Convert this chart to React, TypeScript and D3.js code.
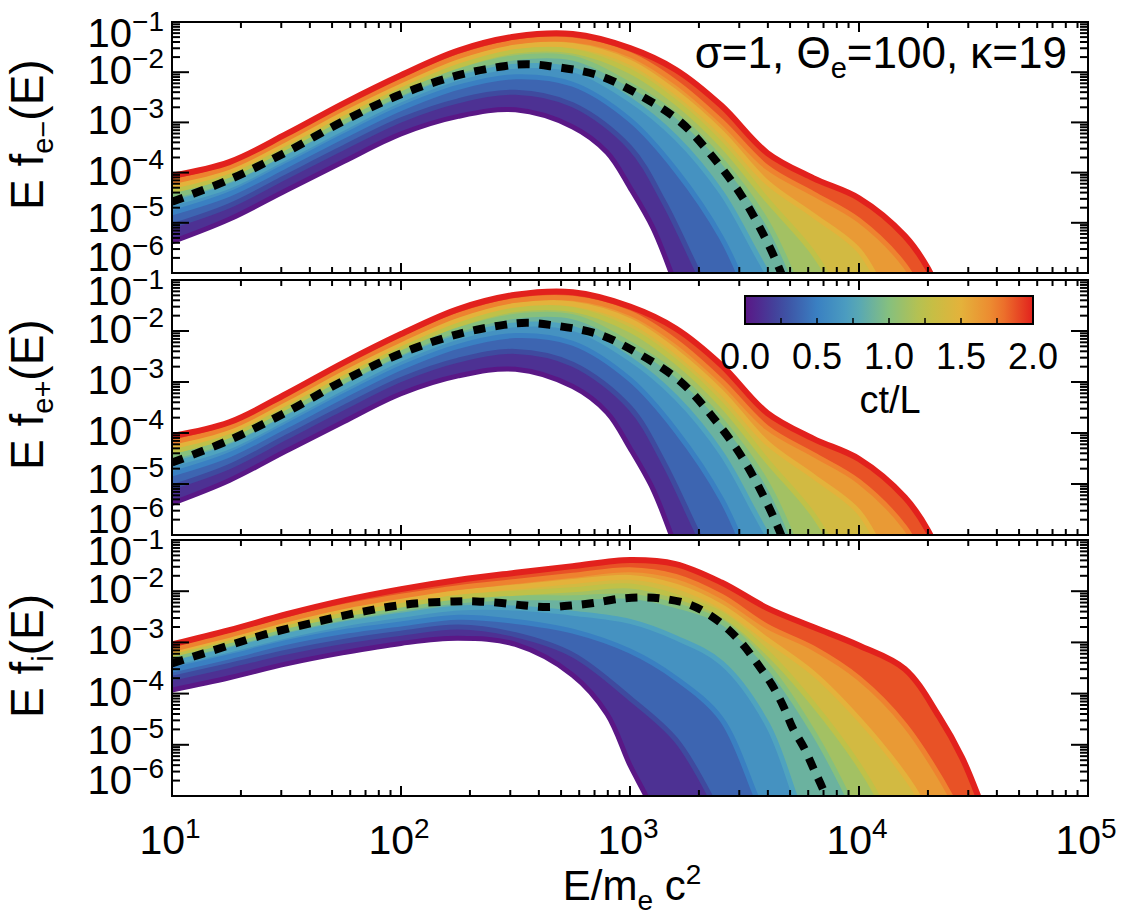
import React, { useEffect, useRef } from 'react';
import * as d3 from 'd3';

type Pt = [number, number];

// ct/L of each stored snapshot, oldest first
const snapshotTimes = [0, 0.25, 0.5, 0.75, 1.0, 1.25, 1.5, 1.75, 2.0];

// electron spectra: [log10(E/mc^2), log10(E f(E))] per snapshot
const electronSpectra: Pt[][] = [
  [[1.0, -5.38], [1.25, -4.93], [1.5, -4.35], [1.75, -3.78], [2.0, -3.23], [2.25, -2.88], [2.5, -2.75], [2.75, -3.09], [2.9, -3.6], [3.0, -4.3], [3.1, -5.1], [3.18, -6.0], [3.22, -6.5]],
  [[1.0, -5.06], [1.25, -4.66], [1.5, -4.08], [1.75, -3.5], [2.0, -2.95], [2.25, -2.57], [2.5, -2.4], [2.75, -2.65], [3.0, -3.5], [3.15, -4.6], [3.3, -6.0], [3.36, -6.5]],
  [[1.0, -4.8], [1.25, -4.43], [1.5, -3.86], [1.75, -3.27], [2.0, -2.72], [2.25, -2.3], [2.5, -2.09], [2.75, -2.24], [3.0, -2.95], [3.2, -3.95], [3.4, -5.3], [3.52, -6.5]],
  [[1.0, -4.61], [1.25, -4.27], [1.5, -3.7], [1.75, -3.11], [2.0, -2.55], [2.25, -2.12], [2.5, -1.88], [2.75, -1.95], [3.0, -2.55], [3.2, -3.3], [3.4, -4.4], [3.55, -5.6], [3.66, -6.5]],
  [[1.0, -4.47], [1.25, -4.14], [1.5, -3.58], [1.75, -2.98], [2.0, -2.42], [2.25, -1.98], [2.5, -1.71], [2.75, -1.72], [3.0, -2.25], [3.2, -2.85], [3.4, -3.75], [3.6, -5.0], [3.75, -6.5]],
  [[1.0, -4.36], [1.25, -4.05], [1.5, -3.49], [1.75, -2.89], [2.0, -2.33], [2.25, -1.87], [2.5, -1.58], [2.75, -1.58], [3.0, -1.98], [3.2, -2.6], [3.4, -3.45], [3.6, -4.55], [3.8, -5.6], [3.92, -6.5]],
  [[1.0, -4.27], [1.25, -3.97], [1.5, -3.41], [1.75, -2.81], [2.0, -2.25], [2.25, -1.78], [2.5, -1.49], [2.75, -1.47], [3.0, -1.8], [3.2, -2.4], [3.4, -3.2], [3.6, -4.2], [3.8, -4.85], [4.0, -5.55], [4.12, -6.5]],
  [[1.0, -4.18], [1.25, -3.89], [1.5, -3.33], [1.75, -2.72], [2.0, -2.17], [2.25, -1.69], [2.5, -1.4], [2.75, -1.36], [3.0, -1.65], [3.2, -2.2], [3.4, -2.98], [3.6, -3.9], [3.8, -4.42], [4.0, -4.95], [4.2, -5.85], [4.28, -6.5]],
  [[1.0, -4.06], [1.25, -3.79], [1.5, -3.23], [1.75, -2.62], [2.0, -2.06], [2.25, -1.57], [2.5, -1.29], [2.75, -1.24], [3.0, -1.52], [3.2, -1.95], [3.4, -2.67], [3.6, -3.61], [3.8, -4.11], [4.0, -4.51], [4.2, -5.26], [4.3, -5.9], [4.36, -6.5]],
];

// dashed reference spectrum, electrons
const electronMean: Pt[] = [
  [1.0, -4.58], [1.25, -4.14], [1.5, -3.59], [1.75, -2.97], [2.0, -2.44], [2.25, -2.06], [2.45, -1.88], [2.55, -1.84], [2.65, -1.88],
  [2.86, -2.06], [3.04, -2.45], [3.22, -2.99], [3.36, -3.68], [3.48, -4.41], [3.58, -5.21], [3.66, -6.0], [3.69, -6.4],
];

// pair plasma: positron spectra coincide with the electron ones
const positronSpectra: Pt[][] = electronSpectra;
const positronMean: Pt[] = electronMean;

// ion spectra
const ionSpectra: Pt[][] = [
  [[1.0, -3.93], [1.25, -3.69], [1.5, -3.42], [1.75, -3.2], [2.0, -3.02], [2.25, -2.92], [2.5, -3.04], [2.75, -3.64], [2.9, -4.4], [3.0, -5.4], [3.07, -6.0], [3.12, -6.5]],
  [[1.0, -3.7], [1.25, -3.45], [1.5, -3.19], [1.75, -2.98], [2.0, -2.82], [2.25, -2.7], [2.5, -2.85], [2.75, -3.24], [3.0, -4.09], [3.2, -4.9], [3.35, -6.0], [3.4, -6.5]],
  [[1.0, -3.54], [1.25, -3.28], [1.5, -3.0], [1.75, -2.79], [2.0, -2.64], [2.25, -2.51], [2.5, -2.59], [2.75, -2.78], [3.0, -3.17], [3.2, -3.7], [3.4, -4.5], [3.55, -6.0], [3.6, -6.5]],
  [[1.0, -3.41], [1.25, -3.15], [1.5, -2.87], [1.75, -2.64], [2.0, -2.47], [2.25, -2.33], [2.5, -2.33], [2.75, -2.43], [3.0, -2.59], [3.2, -2.91], [3.4, -3.4], [3.6, -4.6], [3.72, -6.0], [3.76, -6.5]],
  [[1.0, -3.3], [1.25, -3.03], [1.5, -2.75], [1.75, -2.52], [2.0, -2.34], [2.25, -2.19], [2.5, -2.13], [2.75, -2.13], [3.0, -2.1], [3.2, -2.28], [3.4, -2.6], [3.6, -3.45], [3.8, -4.75], [3.95, -6.0], [4.0, -6.5]],
  [[1.0, -3.24], [1.25, -2.97], [1.5, -2.68], [1.75, -2.45], [2.0, -2.27], [2.25, -2.11], [2.5, -2.04], [2.75, -1.97], [3.0, -1.9], [3.2, -2.1], [3.4, -2.45], [3.6, -3.2], [3.8, -4.2], [4.0, -5.4], [4.08, -6.0], [4.13, -6.5]],
  [[1.0, -3.18], [1.25, -2.91], [1.5, -2.62], [1.75, -2.37], [2.0, -2.18], [2.25, -2.02], [2.5, -1.92], [2.75, -1.81], [3.0, -1.73], [3.2, -1.9], [3.4, -2.3], [3.6, -2.95], [3.8, -3.6], [4.0, -4.5], [4.2, -5.6], [4.27, -6.1], [4.3, -6.5]],
  [[1.0, -3.14], [1.25, -2.86], [1.5, -2.56], [1.75, -2.3], [2.0, -2.1], [2.25, -1.93], [2.5, -1.81], [2.75, -1.69], [3.0, -1.58], [3.2, -1.71], [3.4, -2.1], [3.6, -2.69], [3.8, -3.11], [4.0, -3.7], [4.2, -4.61], [4.4, -6.0], [4.45, -6.5]],
  [[1.0, -3.04], [1.25, -2.76], [1.5, -2.45], [1.75, -2.18], [2.0, -1.96], [2.25, -1.78], [2.5, -1.64], [2.75, -1.51], [3.0, -1.39], [3.2, -1.47], [3.4, -1.83], [3.6, -2.33], [3.8, -2.7], [4.0, -3.06], [4.2, -3.52], [4.35, -4.45], [4.45, -5.25], [4.52, -6.0], [4.56, -6.5]],
];

const ionMean: Pt[] = [
  [1.0, -3.41], [1.22, -3.1], [1.41, -2.84], [1.62, -2.61], [1.82, -2.41], [2.02, -2.26], [2.23, -2.2], [2.33, -2.2], [2.44, -2.23],
  [2.54, -2.28], [2.64, -2.31], [2.74, -2.28], [2.84, -2.23], [2.95, -2.15], [3.05, -2.12], [3.15, -2.15], [3.26, -2.26],
  [3.35, -2.47], [3.43, -2.75], [3.5, -3.08], [3.56, -3.44], [3.62, -3.83], [3.67, -4.25], [3.71, -4.67], [3.76, -5.06],
  [3.8, -5.45], [3.84, -5.84], [3.88, -6.3],
];

// colour table for ct/L
const colorTimes = [0, 0.25, 0.5, 0.75, 1.0, 1.25, 1.5, 1.75, 2.0];
const colorValues = ['#5a1786', '#3f4a9f', '#3a80c2', '#4fa3bf', '#86c07e', '#bfc148', '#e4b23b', '#ee822f', '#e2211d'];

const xTickPowers = [1, 2, 3, 4, 5];
const yTickPowers = [-1, -2, -3, -4, -5, -6];
const colorbarLabels = [0, 0.5, 1.0, 1.5, 2.0];
const colorbarTicks = [0.25, 0.5, 0.75, 1.0, 1.25, 1.5, 1.75];

const panels = [
  { key: 'em', top: 22, bottom: 273, spectra: electronSpectra, mean: electronMean, sub: 'e−', titleY: 210 },
  { key: 'ep', top: 280, bottom: 535, spectra: positronSpectra, mean: positronMean, sub: 'e+', titleY: 470 },
  { key: 'ion', top: 540, bottom: 796, spectra: ionSpectra, mean: ionMean, sub: 'i', titleY: 718 },
];

const FONT = '"Liberation Sans", Arial, Helvetica, sans-serif';

const App = () => {
  const svgRef = useRef<SVGSVGElement>(null);

  useEffect(() => {
    const svg = d3.select(svgRef.current);
    svg.selectAll('*').remove();

    const left = 172;
    const right = 1088;
    const x = d3.scaleLog().domain([10, 1e5]).range([left, right]);
    const color = d3.scaleLinear<string>().domain(colorTimes).range(colorValues).interpolate(d3.interpolateRgb);
    const isDecade = (v: number) => Math.abs(Math.log10(v) - Math.round(Math.log10(v))) < 1e-6;

    const defs = svg.append('defs');

    panels.forEach((p, pi) => {
      const y = d3.scaleLog().domain([1e-6, 1e-1]).range([p.bottom, p.top]);
      const line = d3.line<Pt>()
        .x(d => x(10 ** d[0]))
        .y(d => y(10 ** d[1]))
        .curve(d3.curveCatmullRom.alpha(0.5));

      defs.append('clipPath').attr('id', `clip-${p.key}`)
        .append('rect')
        .attr('x', left).attr('y', p.top)
        .attr('width', right - left).attr('height', p.bottom - p.top);

      const g = svg.append('g').attr('clip-path', `url(#clip-${p.key})`);

      // colour bands between neighbouring snapshots
      for (let k = 0; k < p.spectra.length - 1; k++) {
        const lower = line(p.spectra[k]) as string;
        const upper = line(p.spectra[k + 1].slice().reverse()) as string;
        g.append('path')
          .attr('d', lower + upper.replace(/^M/, 'L') + 'Z')
          .attr('fill', color((snapshotTimes[k] + snapshotTimes[k + 1]) / 2));
      }

      // the snapshots themselves, latest drawn last
      p.spectra.forEach((s, k) => {
        g.append('path')
          .attr('d', line(s))
          .attr('fill', 'none')
          .attr('stroke', color(snapshotTimes[k]))
          .attr('stroke-width', k === p.spectra.length - 1 ? 6 : 5)
          .attr('stroke-linejoin', 'round');
      });

      g.append('path')
        .attr('d', line(p.mean))
        .attr('fill', 'none')
        .attr('stroke', '#000')
        .attr('stroke-width', 8)
        .attr('stroke-dasharray', '12 10');

      // box and inward ticks on all four sides
      const axes = svg.append('g').attr('stroke', '#000').attr('stroke-width', 2);
      axes.append('rect')
        .attr('x', left).attr('y', p.top)
        .attr('width', right - left).attr('height', p.bottom - p.top)
        .attr('fill', 'none');

      x.ticks().forEach(v => {
        const len = isDecade(v) ? 10 : 6;
        const px = x(v);
        axes.append('line').attr('x1', px).attr('x2', px).attr('y1', p.bottom).attr('y2', p.bottom - len);
        axes.append('line').attr('x1', px).attr('x2', px).attr('y1', p.top).attr('y2', p.top + len);
      });
      y.ticks().forEach(v => {
        const len = isDecade(v) ? 17 : 8;
        const py = y(v);
        axes.append('line').attr('x1', left).attr('x2', left + len).attr('y1', py).attr('y2', py);
        axes.append('line').attr('x1', right).attr('x2', right - len).attr('y1', py).attr('y2', py);
      });

      // y tick labels; the outer two are pulled inside the box height
      yTickPowers.forEach(n => {
        let base = y(10 ** n) + 12;
        if (n === -1) base = p.top + 25;
        if (n === -5) base = y(10 ** n) + 9;
        if (n === -6) base = p.bottom - 2;
        const t = svg.append('text')
          .attr('x', 164).attr('y', base)
          .attr('text-anchor', 'end')
          .attr('font-family', FONT)
          .attr('font-size', 40);
        t.append('tspan').text('10');
        t.append('tspan').attr('dy', -16).attr('font-size', 28).text(`−${-n}`);
      });

      // y title
      const title = svg.append('text')
        .attr('transform', `translate(43,${p.titleY}) rotate(-90)`)
        .attr('font-family', FONT)
        .attr('font-size', 46);
      title.append('tspan').text('E f');
      title.append('tspan').attr('dy', 10).attr('font-size', 29).text(p.sub);
      title.append('tspan').attr('dy', -10).text('(E)');

      if (pi === panels.length - 1) {
        xTickPowers.forEach(n => {
          const t = svg.append('text')
            .attr('x', x(10 ** n) - 2).attr('y', 854)
            .attr('text-anchor', 'middle')
            .attr('font-family', FONT)
            .attr('font-size', 41);
          t.append('tspan').text('10');
          t.append('tspan').attr('dy', -16).attr('font-size', 28).text(String(n));
        });
      }
    });

    // x title
    const xt = svg.append('text')
      .attr('x', 632).attr('y', 900)
      .attr('text-anchor', 'middle')
      .attr('font-family', FONT)
      .attr('font-size', 42);
    xt.append('tspan').text('E/m');
    xt.append('tspan').attr('dy', 10).attr('font-size', 28).text('e');
    xt.append('tspan').attr('dy', -10).text(' c');
    xt.append('tspan').attr('dy', -16).attr('font-size', 28).text('2');

    // run parameters
    const ann = svg.append('text')
      .attr('x', 1067).attr('y', 68)
      .attr('text-anchor', 'end')
      .attr('font-family', FONT)
      .attr('font-size', 44);
    ann.append('tspan').text('σ=1, Θ');
    ann.append('tspan').attr('dy', 10).attr('font-size', 29).text('e');
    ann.append('tspan').attr('dy', -10).text('=100, κ=19');

    // colour bar
    const cb = d3.scaleLinear().domain([0, 2]).range([745, 1033]);
    const grad = defs.append('linearGradient').attr('id', 'ctl-grad').attr('x1', 0).attr('x2', 1).attr('y1', 0).attr('y2', 0);
    d3.range(0, 2.0001, 0.1).forEach(t => {
      grad.append('stop').attr('offset', t / 2).attr('stop-color', color(t));
    });
    svg.append('rect')
      .attr('x', cb(0)).attr('y', 296)
      .attr('width', cb(2) - cb(0)).attr('height', 28)
      .attr('fill', 'url(#ctl-grad)')
      .attr('stroke', '#000').attr('stroke-width', 2);
    colorbarTicks.forEach(t => {
      svg.append('line')
        .attr('x1', cb(t)).attr('x2', cb(t))
        .attr('y1', 324).attr('y2', 318)
        .attr('stroke', '#000').attr('stroke-width', 1.5);
    });
    colorbarLabels.forEach(t => {
      svg.append('text')
        .attr('x', cb(t)).attr('y', 369)
        .attr('text-anchor', 'middle')
        .attr('font-family', FONT)
        .attr('font-size', 36)
        .text(d3.format('.1f')(t));
    });
    svg.append('text')
      .attr('x', 890).attr('y', 413)
      .attr('text-anchor', 'middle')
      .attr('font-family', FONT)
      .attr('font-size', 38)
      .text('ct/L');
  }, []);

  return (
    <svg
      ref={svgRef}
      width={1146}
      height={917}
      style={{ position: 'absolute', left: 0, top: 0, background: '#fff' }}
    />
  );
};

export default App;
